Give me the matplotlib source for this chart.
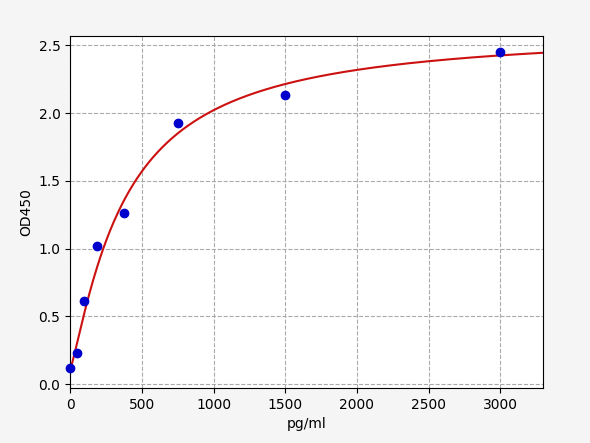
import numpy as np
import matplotlib
matplotlib.use("Agg")
import matplotlib.pyplot as plt

conc = [0, 46.875, 93.75, 187.5, 375, 750, 1500, 3000]
od = [0.12, 0.23, 0.61, 1.02, 1.26, 1.93, 2.13, 2.45]
# 4PL fit parameters (a: bottom, d: top, c: EC50, b: slope)
a, b, c, d = 0.11, 1.2, 380.0, 2.62

fig = plt.figure(figsize=(5.9, 4.43), dpi=100, facecolor="#f5f5f5")
ax = fig.add_axes([0.119, 0.124, 0.802, 0.795])
xs = np.linspace(0, 3300, 600)
ys = d + (a - d) / (1 + (xs / c) ** b)
ax.plot(xs, ys, color="#cc1111", lw=1.5, zorder=2)
ax.scatter(conc, od, color="#0000cc", s=36, zorder=3, clip_on=False)
ax.set_xlim(0, 3300)
ax.set_ylim(-0.03, 2.57)
ax.set_xticks([0, 500, 1000, 1500, 2000, 2500, 3000])
ax.set_yticks([0.0, 0.5, 1.0, 1.5, 2.0, 2.5])
ax.grid(True, ls="--", color="#aaaaaa", lw=0.8)
ax.set_xlabel("pg/ml")
ax.set_ylabel("OD450")
fig.savefig("out.png", dpi=100, facecolor=fig.get_facecolor())
